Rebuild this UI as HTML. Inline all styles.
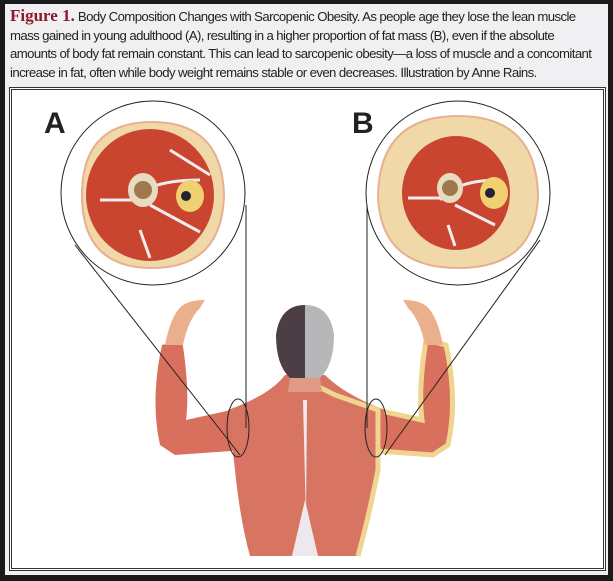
<!DOCTYPE html>
<html><head><meta charset="utf-8"><style>
html,body{margin:0;padding:0;background:#1a1a1a;}
.wrap{position:relative;width:613px;height:581px;overflow:hidden;background:#1a1a1a;}
.panel{position:absolute;left:5px;top:4px;width:603px;height:571px;background:#f0f0f2;}
.cap{position:absolute;left:10px;top:7px;width:600px;font-family:"Liberation Sans",sans-serif;font-size:13.2px;line-height:18.5px;color:#222;letter-spacing:-0.6px;white-space:nowrap;}
.cap b{font-family:"Liberation Serif",serif;color:#8b1a2b;font-size:17px;letter-spacing:0;}
.box{position:absolute;left:9px;top:87px;width:591px;height:478px;background:#fff;border:3px double #333;}
</style></head><body><div class="wrap">
<div class="panel"></div>
<div class="cap"><b>Figure 1.</b> Body Composition Changes with Sarcopenic Obesity. As people age they lose the lean muscle<br>mass gained in young adulthood (A), resulting in a higher proportion of fat mass (B), even if the absolute<br>amounts of body fat remain constant. This can lead to sarcopenic obesity—a loss of muscle and a concomitant<br>increase in fat, often while body weight remains stable or even decreases. Illustration by Anne Rains.</div>
<div class="box"></div>
<svg width="613" height="581" style="position:absolute;left:0;top:0">
<text x="44" y="133" font-family="Liberation Sans" font-weight="bold" font-size="30" fill="#222">A</text>
<text x="352" y="133" font-family="Liberation Sans" font-weight="bold" font-size="30" fill="#222">B</text>
<path d="M160 445 Q150 400 162 345 L182 340 Q190 390 186 420 L240 408 L245 450 L175 455 Z" fill="#d9705e"/>
<path d="M165 345 Q170 320 178 310 Q185 300 205 300 L200 308 Q188 320 183 345 Z" fill="#eab08e"/>
<path d="M448 445 Q458 400 446 345 L426 340 Q418 390 422 420 L368 408 L363 450 L433 455 Z" fill="#d9705e" stroke="#f0d590" stroke-width="5"/>
<path d="M443 345 Q438 320 430 310 Q423 300 403 300 L408 308 Q420 320 425 345 Z" fill="#eab08e"/>
<path d="M228 410 Q270 395 285 375 L325 375 Q345 395 385 410 L378 470 Q368 520 358 556 L250 556 Q240 520 235 470 Z" fill="#d87462"/>
<path d="M305 380 L335 395 L378 410 L378 470 Q368 520 358 556" fill="none" stroke="#f0d590" stroke-width="5"/>
<path d="M303 400 L307 400 L306 520 Z" fill="#f2e8ea"/>
<path d="M292 556 L305 500 L318 556 Z" fill="#eee8ee"/>
<path d="M305 305 Q280 305 276 335 Q276 365 290 378 L305 378 Z" fill="#4b3f45"/>
<path d="M305 305 Q330 305 334 335 Q334 365 320 378 L305 378 Z" fill="#b7b7b9"/>
<path d="M290 378 L320 378 L322 392 L288 392 Z" fill="#e09a86"/>
<g fill="none" stroke="#222" stroke-width="1">
<circle cx="153" cy="193" r="92"/><circle cx="458" cy="193" r="92"/>
<ellipse cx="238" cy="428" rx="11" ry="29"/><ellipse cx="376" cy="428" rx="11" ry="29"/>
<line x1="246" y1="205" x2="246" y2="428"/><line x1="75" y1="245" x2="240" y2="455"/>
<line x1="367" y1="205" x2="367" y2="428"/><line x1="540" y1="240" x2="385" y2="455"/>
</g>
<g>
<path d="M152 122 Q222 122 224 195 Q222 268 152 268 Q82 268 82 195 Q82 122 152 122Z" fill="#f0d8a8" stroke="#e8b090" stroke-width="2"/>
<ellipse cx="150" cy="195" rx="64" ry="66" fill="#c9452f"/>
<path d="M130 200 Q150 180 200 180 M140 230 L150 258 M100 200 L135 200 M150 205 L200 232 M170 150 L210 175" stroke="#f4ecec" stroke-width="3" fill="none"/>
<ellipse cx="143" cy="190" rx="15" ry="17" fill="#e8dcc0"/><circle cx="143" cy="190" r="9" fill="#a07850"/>
<ellipse cx="190" cy="196" rx="14" ry="16" fill="#f0d070"/><circle cx="186" cy="196" r="5" fill="#223"/>
</g>
<g>
<path d="M458 116 Q536 116 538 195 Q536 268 458 268 Q380 268 378 195 Q380 116 458 116Z" fill="#f0d8a8" stroke="#e8b090" stroke-width="2"/>
<ellipse cx="456" cy="193" rx="54" ry="57" fill="#c9452f"/>
<path d="M440 200 Q456 180 500 180 M448 225 L455 246 M408 198 L442 198 M455 205 L495 225" stroke="#f4ecec" stroke-width="3" fill="none"/>
<ellipse cx="450" cy="188" rx="13" ry="15" fill="#e8dcc0"/><circle cx="450" cy="188" r="8" fill="#a07850"/>
<ellipse cx="494" cy="193" rx="14" ry="16" fill="#f0d070"/><circle cx="490" cy="193" r="5" fill="#223"/>
</g>
</svg>
</div></body></html>
